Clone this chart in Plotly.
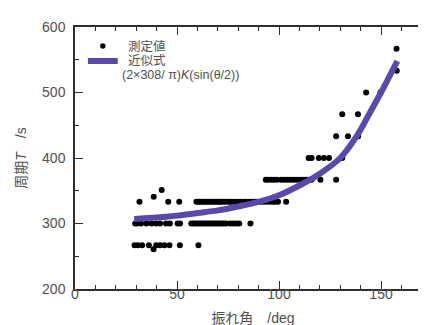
import plotly.graph_objects as go

# ---- data ----
levels = [266.7, 300.0, 333.3, 366.7, 400.0, 433.3, 466.7, 500.0, 533.3, 566.7]

row_267 = [29.2, 30.8, 32.9, 36.2, 39.8, 41.7, 43.8, 46.3, 51.4, 60.5]
row_300 = [29.5, 30.5, 32.4, 35.0, 37.5, 39.8, 41.7, 44.6, 46.5, 50.3, 51.5,
           57.0, 58.0, 59.0, 60.0, 61.0, 62.0, 63.0, 64.0, 65.0, 66.0, 67.0,
           68.0, 69.0, 70.0, 71.0, 72.0, 73.0, 74.0, 76.0, 77.5, 79.0, 80.5, 86.0]
row_333 = [31.6, 45.7, 51.1, 59.5, 60.5, 61.5, 62.5, 63.5, 64.5, 65.5, 66.5,
           67.5, 68.5, 69.5, 70.5, 71.5, 72.5, 73.5, 75.0, 76.0, 77.0, 78.5,
           80.0, 81.5, 83.0, 84.0, 85.5, 87.0, 88.5, 89.5, 91.0, 92.5, 94.0,
           95.5, 97.0, 98.0, 99.5, 103.5]
row_367 = [93.5, 94.5, 96.0, 97.5, 99.0, 101.0, 102.5, 104.0, 105.5, 107.0,
           108.5, 110.0, 111.5, 113.0, 114.5, 116.0, 120.3, 128.0]
row_400 = [114.5, 116.0, 119.5, 122.0, 124.5, 131.0]
row_433 = [128.0, 133.8, 138.8]
row_467 = [131.0, 138.7]
row_500 = [142.7, 149.7]
row_533 = [157.7]
row_567 = [157.6]
rows = [row_267, row_300, row_333, row_367, row_400, row_433, row_467,
        row_500, row_533, row_567]

# stray points not on a level
extra_x = [38.5, 38.6, 42.5]
extra_y = [260.6, 341.0, 351.0]

# fitted curve
curve_x = [29, 40, 50, 60, 70, 80, 90, 100, 110, 120, 130, 138, 144, 150, 155, 158]
curve_y = [307, 309, 312, 316, 320, 326, 333, 343, 358, 376, 400, 433, 466, 500, 530, 548]

x_ticks = [0, 50, 100, 150]
y_ticks = [200, 300, 400, 500, 600]

legend_labels = ["測定値", "近似式", "(2×308/ π)<i>K</i>(sin(θ/2))"]

meas_x, meas_y = [], []
for lv, r in zip(levels, rows):
    meas_x += r
    meas_y += [lv] * len(r)
meas_x += extra_x
meas_y += extra_y

FONT = "Liberation Sans, Arial, Noto Sans CJK JP, sans-serif"
TXT = "#505050"
AX = "#2e2e2e"
PURPLE = "#5b48aa"

# plot-area geometry in pixels (for the hand-made legend)
L, R, T, B = 67, 1, 19, 44
PW, PH = 426 - L - R, 325 - T - B


def px(xp):
    return (xp - L) / PW


def py(yp):
    return (325 - B - yp) / PH


fig = go.Figure()
fig.add_trace(go.Scatter(
    x=meas_x, y=meas_y, mode="markers", name="測定値",
    marker=dict(color="black", size=6), showlegend=False,
))
fig.add_trace(go.Scatter(
    x=curve_x, y=curve_y, mode="lines", line_shape="spline",
    name="近似式", showlegend=False,
    line=dict(color=PURPLE, width=6),
))

axis_common = dict(
    showline=True, linecolor=AX, linewidth=1.5, mirror="ticks",
    ticks="inside", ticklen=8, tickwidth=1.2, tickcolor=AX,
    showgrid=False, zeroline=False,
    tickfont=dict(size=14, color=TXT, family=FONT),
)

fig.update_xaxes(
    range=[0, 174.5], tickvals=x_ticks,
    minor=dict(ticks="inside", ticklen=4, tickwidth=1, tickcolor=AX, dtick=10),
    title=dict(text="振れ角　/deg", font=dict(size=14, color=TXT, family=FONT), standoff=13),
    ticklabelstandoff=-9,
    **axis_common,
)
fig.update_yaxes(
    range=[200, 600], tickvals=y_ticks,
    minor=dict(ticks="inside", ticklen=4, tickwidth=1, tickcolor=AX, dtick=50),
    title=dict(text="周期<i>T</i>　/s", font=dict(size=14, color=TXT, family=FONT), standoff=12),
    ticklabelstandoff=5,
    **axis_common,
)

# hand-made legend (symbols + texts)
fig.add_shape(type="circle", xref="paper", yref="paper",
              x0=px(92.3), x1=px(97.7), y0=py(40.7), y1=py(35.3),
              fillcolor="black", line=dict(width=0))
fig.add_shape(type="line", xref="paper", yref="paper",
              x0=px(80), x1=px(110), y0=py(53), y1=py(53),
              line=dict(color=PURPLE, width=6))
for lab, xp, yp in zip(legend_labels, [118, 118, 112], [38.5, 53, 67.5]):
    fig.add_annotation(text=lab, xref="paper", yref="paper", x=px(xp), y=py(yp),
                       xanchor="left", yanchor="middle", showarrow=False,
                       font=dict(size=12.5, color=TXT, family=FONT))

fig.update_layout(
    width=426, height=325,
    margin=dict(l=L, r=R, t=T, b=B),
    paper_bgcolor="white", plot_bgcolor="white",
    font=dict(family=FONT, color=TXT),
    showlegend=False,
)

fig.write_html("out.html")
